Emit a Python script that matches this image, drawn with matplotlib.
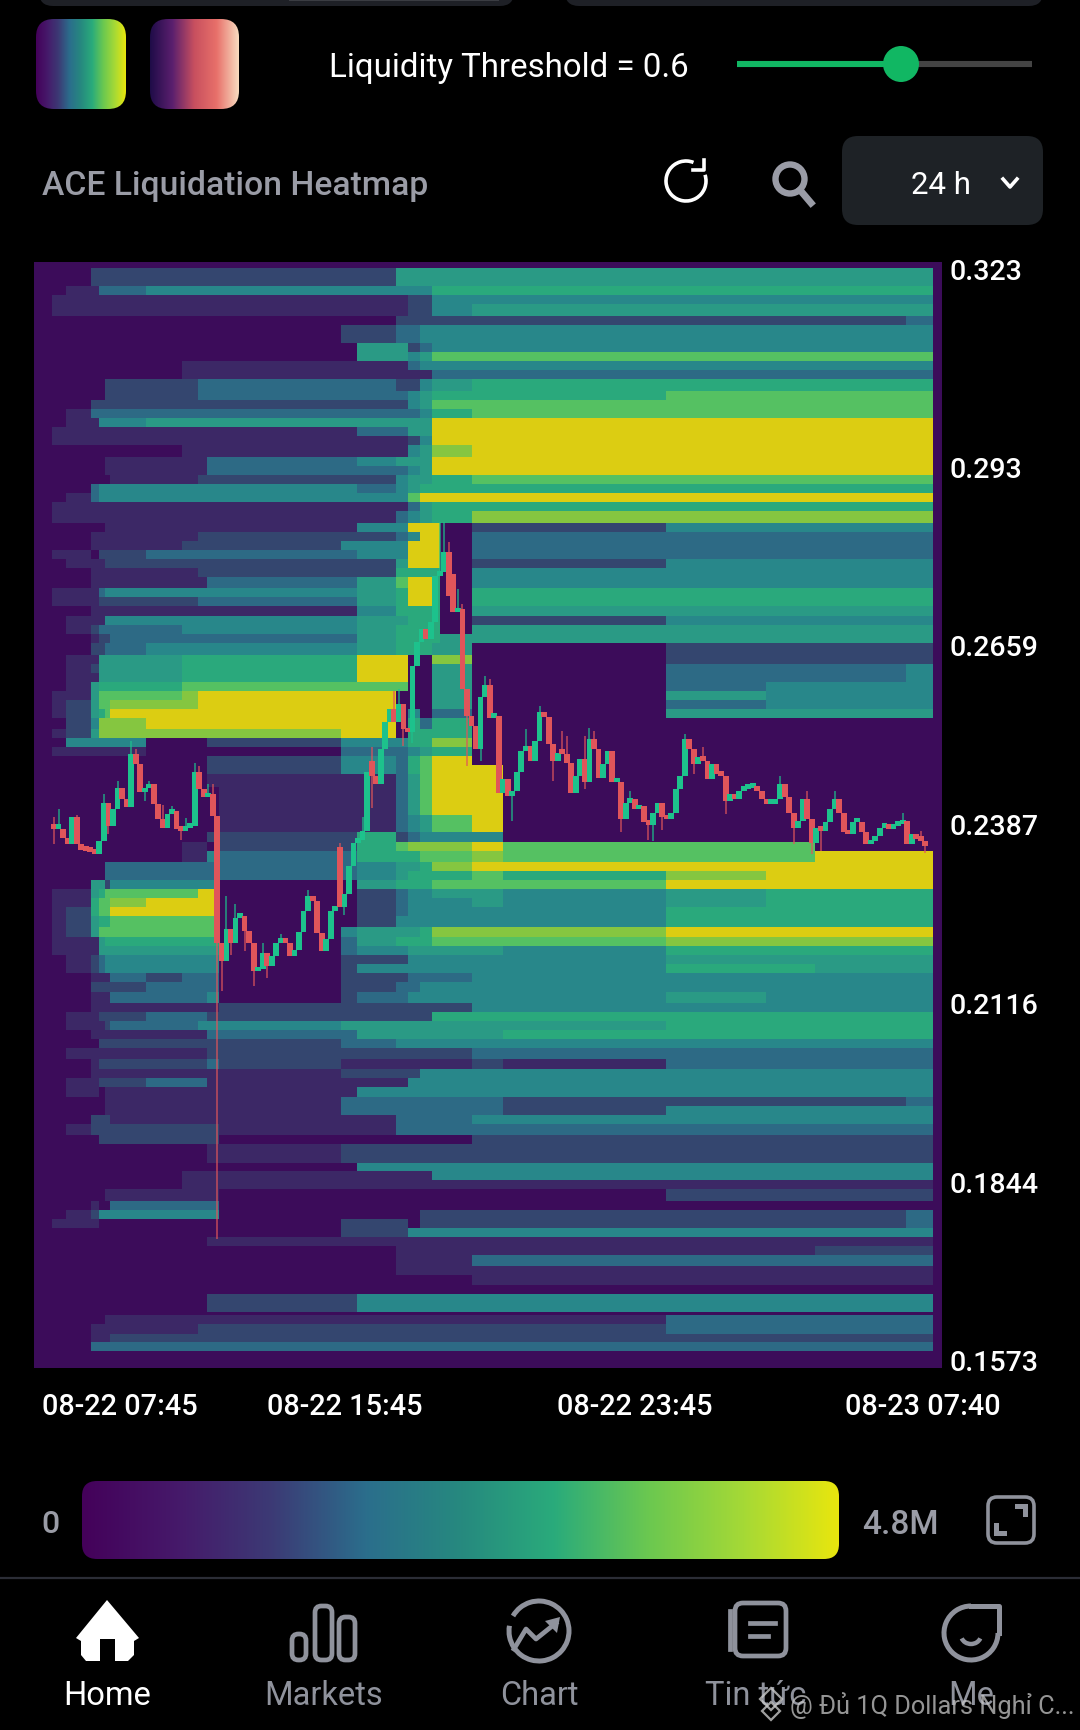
import numpy as np
import matplotlib
matplotlib.use("Agg")
import matplotlib.pyplot as plt
from matplotlib.colors import ListedColormap, LinearSegmentedColormap
from matplotlib.patches import FancyBboxPatch, Circle, Arc, Polygon, Rectangle
from matplotlib.transforms import ScaledTranslation

plt.rcParams['font.family'] = ['Roboto', 'DejaVu Sans']

# hours after 08-22 07:45, edges of the heat columns
heat_hours = [-0.55, -0.055, 0.33, 1.02, 1.24, 1.40, 1.54, 2.53, 3.53, 3.97, 4.21, 4.55,
              7.91, 8.35, 9.42, 9.75, 10.08, 10.41, 11.52, 12.37, 16.86, 19.61, 20.96, 23.47, 24.21]

# price edges of the heat rows, top down
heat_prices = [0.32422, 0.32326, 0.32191, 0.32056, 0.31919, 0.31784, 0.31605, 0.31470, 0.31328, 0.31193,
               0.31057, 0.30917, 0.30780, 0.30645, 0.30461, 0.30325, 0.30189, 0.30054, 0.29917, 0.29782,
               0.29641, 0.29462, 0.29327, 0.29191, 0.29056, 0.28920, 0.28784, 0.28643, 0.28459, 0.28323,
               0.28188, 0.28052, 0.27917, 0.27781, 0.27645, 0.27466, 0.27331, 0.27196, 0.27044, 0.26907,
               0.26772, 0.26637, 0.26452, 0.26316, 0.26181, 0.26045, 0.25905, 0.25768, 0.25633, 0.25498,
               0.25323, 0.25188, 0.25053, 0.24918, 0.24781, 0.24646, 0.24445, 0.24266, 0.24023, 0.23772,
               0.23613, 0.23476, 0.23309, 0.23173, 0.23036, 0.22899, 0.22762, 0.22633, 0.22489, 0.22322,
               0.22170, 0.22033, 0.21897, 0.21760, 0.21623, 0.21487, 0.21335, 0.21168, 0.21031, 0.20894,
               0.20758, 0.20621, 0.20484, 0.20317, 0.20165, 0.20029, 0.19892, 0.19740, 0.19603, 0.19467,
               0.19330, 0.19163, 0.19026, 0.18889, 0.18745, 0.18616, 0.18479, 0.18343, 0.18160, 0.18024,
               0.17887, 0.17750, 0.17614, 0.17477, 0.17340, 0.17173, 0.17037, 0.16885, 0.16748, 0.16475,
               0.16429, 0.16292, 0.16146, 0.16019, 0.15882, 0.15624]

# liquidity level per cell (0-9), one string per row, one digit per column
heat_rows = [
    "000000 000000 000000 000000", "000222 222222 225555 555555", "000222 222222 225555 555555",
    "001133 344444 444446 666666", "011111 111111 111224 444444", "011111 111111 111224 555555",
    "000000 000000 002222 222223", "000000 000000 223344 444444", "000000 000000 223344 444444",
    "000000 000000 055234 444444", "000000 000000 055457 777777", "000000 001111 111344 444444",
    "000000 001111 111113 333333", "000002 222333 332245 666666", "000002 222333 333456 667777",
    "000222 222222 222457 777777", "001333 333333 333346 777777", "001144 455555 555559 999999",
    "011111 111111 133559 999999", "011111 111111 111249 999999", "000000 001111 111458 999999",
    "000001 111133 345559 999999", "000001 111133 333459 999999", "000000 111222 224556 777777",
    "000344 444444 434566 666666", "001344 444444 444799 999999", "011111 111111 111356 666666",
    "011111 111111 113456 888888", "000001 111111 144990 224444", "000111 111222 223490 333333",
    "000111 112222 444990 333333", "011022 233333 344990 333333", "001112 222222 225990 224444",
    "000111 111222 226660 444444", "000111 111133 357990 444444", "011134 444444 456990 666666",
    "011122 222333 356990 666666", "000111 111111 146660 555555", "001114 444444 455660 224444",
    "001233 334444 456660 555555", "000122 333333 356665 555555", "000223 344444 456665 002222",
    "001155 556666 699008 002222", "001255 556666 699005 003334", "001155 556666 699005 003334",
    "001566 667777 777005 003444", "011577 778999 990005 005444", "012577 888999 990005 003444",
    "012567 999999 990403 005555", "002488 899999 990636 000000", "012588 888888 990666 000000",
    "004444 400022 444668 000000", "011111 100000 333456 000000", "000000 000022 443679 000000",
    "000000 000022 443679 900000", "000000 000011 113579 900000", "000000 000001 113579 900000",
    "000000 000001 113579 900000", "000000 000001 113457 900000", "000000 000022 262344 400000",
    "000000 001102 267888 977700", "000000 001143 366677 877799", "000003 333333 345568 999999",
    "000003 333333 345666 768999", "000552 444440 056667 779999", "011567 777990 023445 545666",
    "011677 899990 023444 545666", "012677 999990 023444 446666", "012566 777770 024444 446666",
    "012577 777770 455568 889999", "011156 666660 356667 778888", "011155 555550 344555 546666",
    "001234 444440 222444 445555", "001234 444440 244444 446655", "000111 323330 222333 444444",
    "000222 233330 223344 444444", "000111 333340 233444 445444", "000111 111112 222222 444444",
    "001122 233322 222226 666666", "001112 333444 555555 556666", "000111 111133 355555 566666",
    "000022 222222 334444 444444", "001111 111122 222222 333333", "000122 222232 111111 213333",
    "000111 111111 222244 444444", "001122 233311 111444 444444", "001101 111111 144444 444444",
    "000001 111111 333333 322223", "000001 111111 333333 324444", "000222 111111 113333 444444",
    "001222 222221 113333 333333", "000022 222220 000000 222222", "000000 000011 222222 222222",
    "000000 000011 222222 222222", "000000 000000 044444 444444", "000000 001111 111114 444444",
    "000000 001111 111111 111111", "000001 111110 000000 002222", "000100 333330 000000 000000",
    "001244 444440 000022 222223", "011100 000000 222022 222223", "000000 000000 222444 444444",
    "000000 000011 111111 111111", "000000 000000 001111 111122", "000000 000000 001111 333333",
    "000000 000000 001111 111111", "000000 000000 000000 111111", "000000 000000 000000 000000",
    "000000 000022 244444 444444", "000000 000000 000000 000000", "000001 111111 111111 113333",
    "000111 111222 222222 223333", "000111 222222 222222 222222", "000333 333333 333333 333333",
    "000000 000000 000000 000000",
]

level_colors = ["#3c0c5a", "#3c2866", "#34466f", "#2d6a85", "#28878a",
                "#2a9a85", "#2aa97c", "#55c162", "#85c640", "#dccd12"]

# narrow blocks left of the peak that do not fit the column grid
block_hours = [[10.41, 10.63], [10.41, 10.63]]
block_prices = [[0.28459, 0.27781], [0.27781, 0.26637]]
block_levels = [9, 6]

# closing price of each 7.5 min candle
candle_close = [
    0.2381, 0.2381, 0.2368, 0.2358, 0.2399, 0.2358, 0.2349, 0.2348, 0.2346, 0.2343,
    0.2363, 0.2420, 0.2386, 0.2411, 0.2444, 0.2426, 0.2414, 0.2495, 0.2480, 0.2437,
    0.2443, 0.2449, 0.2419, 0.2396, 0.2383, 0.2404, 0.2409, 0.2381, 0.2378, 0.2383,
    0.2386, 0.2467, 0.2442, 0.2429, 0.2434, 0.2401, 0.2208, 0.2181, 0.2229, 0.2208,
    0.2246, 0.2249, 0.2226, 0.2208, 0.2165, 0.2168, 0.2193, 0.2173, 0.2188, 0.2208,
    0.2216, 0.2208, 0.2188, 0.2198, 0.2224, 0.2257, 0.2279, 0.2272, 0.2223, 0.2196,
    0.2214, 0.2257, 0.2259, 0.2262, 0.2282, 0.2325, 0.2360, 0.2365, 0.2378, 0.2467,
    0.2462, 0.2449, 0.2502, 0.2543, 0.2563, 0.2543, 0.2571, 0.2533, 0.2528, 0.2629,
    0.2665, 0.2685, 0.2670, 0.2695, 0.2766, 0.2771, 0.2801, 0.2735, 0.2710, 0.2715,
    0.2594, 0.2553, 0.2538, 0.2502, 0.2581, 0.2599, 0.2550, 0.2553, 0.2436, 0.2457,
    0.2431, 0.2439, 0.2467, 0.2500, 0.2507, 0.2485, 0.2515, 0.2558, 0.2551, 0.2510,
    0.2485, 0.2497, 0.2495, 0.2482, 0.2436, 0.2462, 0.2487, 0.2452, 0.2518, 0.2502,
    0.2459, 0.2480, 0.2500, 0.2452, 0.2452, 0.2396, 0.2421, 0.2426, 0.2411, 0.2416,
    0.2391, 0.2387, 0.2406, 0.2421, 0.2399, 0.2396, 0.2406, 0.2442, 0.2462, 0.2518,
    0.2502, 0.2480, 0.2490, 0.2485, 0.2457, 0.2480, 0.2464, 0.2462, 0.2424, 0.2434,
    0.2426, 0.2439, 0.2442, 0.2444, 0.2444, 0.2439, 0.2426, 0.2419, 0.2419, 0.2426,
    0.2449, 0.2429, 0.2406, 0.2383, 0.2393, 0.2426, 0.2396, 0.2360, 0.2383, 0.2378,
    0.2391, 0.2411, 0.2426, 0.2406, 0.2376, 0.2373, 0.2391, 0.2391, 0.2376, 0.2358,
    0.2363, 0.2371, 0.2383, 0.2386, 0.2381, 0.2386, 0.2388, 0.2393, 0.2358, 0.2373,
    0.2366, 0.2363, 0.2355,
]
# candles that did not open at the previous close
gap_index = [63, 70, 88]
gap_open = [0.2353, 0.2485, 0.2769]
# visible wicks
high_index = [0, 1, 5, 11, 14, 17, 18, 21, 24, 26, 29, 31, 32, 34, 35, 38, 40, 46, 50, 56, 63, 68, 70,
              75, 76, 85, 86, 87, 89, 90, 91, 95, 96, 104, 107, 112, 113, 117, 118, 119, 127, 139, 143,
              160, 166, 172, 187, 191]
high_price = [0.2399, 0.2411, 0.2403, 0.2434, 0.2454, 0.2515, 0.2502, 0.2454, 0.2417, 0.2416, 0.2398, 0.2482,
              0.2477, 0.2449, 0.2449, 0.2279, 0.2267, 0.2208, 0.2222, 0.2289, 0.2360, 0.2400, 0.2505,
              0.2591, 0.2594, 0.2847, 0.2847, 0.2817, 0.2746, 0.2723, 0.2594, 0.2614, 0.2609, 0.2533,
              0.2568, 0.2530, 0.2523, 0.2523, 0.2535, 0.2530, 0.2439, 0.2525, 0.2505,
              0.2462, 0.2439, 0.2439, 0.2406, 0.2378]
low_index = [0, 12, 20, 28, 36, 37, 39, 42, 44, 47, 64, 70, 77, 79, 91, 94, 101, 110, 117, 125, 131, 132, 134,
             141, 148, 163, 167, 169, 192]
low_price = [0.2358, 0.2373, 0.2424, 0.2365, 0.1759, 0.2135, 0.2190, 0.2195, 0.2142, 0.2155, 0.2250, 0.2413,
             0.2507, 0.2512, 0.2477, 0.2484, 0.2393, 0.2454, 0.2442, 0.2376, 0.2365, 0.2363, 0.2380,
             0.2464, 0.2404, 0.2358, 0.2343, 0.2348, 0.2345]

price_ticks = [0.323, 0.293, 0.2659, 0.2387, 0.2116, 0.1844, 0.1573]
price_labels = ["0.323", "0.293", "0.2659", "0.2387", "0.2116", "0.1844", "0.1573"]
time_ticks = [0.0, 8.0, 16.0, 23.92]
time_labels = ["08-22 07:45", "08-22 15:45", "08-22 23:45", "08-23 07:40"]
nav_labels = ["Home", "Markets", "Chart", "Tin tức", "Me"]

W, H = 1080, 1731
fig = plt.figure(figsize=[W/100, H/100], dpi=100, facecolor='black')

# page furniture, in pixels
ui = fig.add_axes([0, 0, 1, 1])
ui.set_xlim(0, W)
ui.set_ylim(H, 0)
ui.axis('off')

grad = LinearSegmentedColormap.from_list('scale', ["#44015a", "#46196a", "#3c3a75", "#2b6e8c", "#26897f",
                                                   "#2aab7b", "#6bc850", "#a5d936", "#e8e60e"])
warm = LinearSegmentedColormap.from_list('warm', ["#1f0c48", "#5a1f6e", "#c8505f", "#e8706a", "#f8dcc0"])
ramp = np.linspace(0, 1, 256)[None, :]


def rounded_ramp(x0, y0, x1, y1, r, cmap):
    box = FancyBboxPatch((x0+r, y0+r), x1-x0-2*r, y1-y0-2*r, boxstyle="round,pad=%g,rounding_size=%g" % (r, r),
                         fc='none', ec='none', transform=ui.transData)
    ui.add_patch(box)
    im = ui.imshow(ramp, extent=(x0, x1, y1, y0), cmap=cmap, aspect='auto', zorder=2)
    im.set_clip_path(box)


def rbox(x0, y0, x1, y1, r, **kw):
    ui.add_patch(FancyBboxPatch((x0+r, y0+r), x1-x0-2*r, y1-y0-2*r,
                                boxstyle="round,pad=%g,rounding_size=%g" % (r, r), **kw))


rbox(39, -30, 514, 7, 14, fc="#1e2026", ec='none')
rbox(565, -30, 1043, 7, 14, fc="#1e2026", ec='none')
ui.add_patch(Rectangle((289, 0), 210, 2, fc="#3a3c42", ec='none'))

rounded_ramp(36, 20, 126, 110, 18, grad)
rounded_ramp(150, 20, 239, 110, 18, warm)

ui.text(329, 68, "Liquidity Threshold = 0.6", color='white', fontsize=23.8, va='center', ha='left')
ui.plot([737, 901], [65, 65], color="#11b763", lw=4.4, solid_capstyle='butt')
ui.plot([901, 1032], [65, 65], color="#444444", lw=4.4, solid_capstyle='butt')
ui.add_patch(Circle((901, 65), 18, fc="#11b763", ec='none', zorder=3))

ui.text(42, 186, "ACE Liquidation Heatmap", color="#9a9ca6", fontsize=24.2, va='center', ha='left', fontweight='medium')

# refresh, search, range box
ui.add_patch(Arc((686, 182), 40, 40, theta1=-18, theta2=292, color='white', lw=2.6))
ui.plot([693, 704, 704], [171, 171, 161], color='white', lw=2.6)
ui.add_patch(Circle((790, 180), 14.5, fc='none', ec="#9a9ca6", lw=4.6))
ui.plot([800, 811], [191, 204], color="#9a9ca6", lw=5)
rbox(842, 137, 1043, 226, 16, fc="#1e2226", ec='none')
ui.text(941, 185, "24 h", color='white', fontsize=22.5, va='center', ha='center')
ui.plot([1003, 1010, 1017], [180, 188, 180], color='white', lw=2.6)

# colour scale
rounded_ramp(82, 1482, 839, 1560, 15, grad)
ui.text(50, 1525, "0", color="#9a9ca6", fontsize=23, va='center', ha='center', fontweight='medium')
ui.text(862, 1525, "4.8M", color="#9a9ca6", fontsize=24, va='center', ha='left', fontweight='medium')
rbox(988, 1498, 1034, 1544, 9, fc='none', ec="#8f929c", lw=2.6)
ui.add_patch(Polygon([[1028, 1505], [1028, 1518], [1023, 1518], [1023, 1510], [1015, 1510], [1015, 1505]], fc="#8f929c", ec='none'))
ui.add_patch(Polygon([[994, 1537], [994, 1524], [999, 1524], [999, 1532], [1007, 1532], [1007, 1537]], fc="#8f929c", ec='none'))

ui.plot([0, W], [1579, 1579], color="#2b2d36", lw=1.6)

# nav bar icons
ui.add_patch(Polygon([[107, 1601], [139, 1639], [134, 1642], [134, 1656], [128, 1662], [115, 1662], [115, 1640],
                      [100, 1640], [100, 1662], [86, 1662], [81, 1656], [81, 1642], [76, 1639]], fc='white', ec='none'))
icon = "#8f929c"
for x0, x1, y0 in [(292, 306, 1635), (315, 332, 1607), (339, 355, 1618)]:
    rbox(x0, y0, x1, 1661, 6.5, fc='none', ec=icon, lw=3.4)
ui.add_patch(Arc((539, 1632), 60, 60, theta1=-150, theta2=190, color=icon, lw=3.6))
ui.plot([514, 526, 536, 556], [1650, 1630, 1640, 1624], color=icon, lw=3.4)
ui.add_patch(Polygon([[545, 1622], [560, 1618], [557, 1634]], fc=icon, ec='none'))
rbox(735, 1604, 786, 1657, 8, fc='none', ec=icon, lw=3.4)
ui.plot([730, 730], [1612, 1650], color=icon, lw=3.4)
ui.plot([750, 775], [1624, 1624], color=icon, lw=3.4)
ui.plot([750, 768], [1637, 1637], color=icon, lw=3.4)
ui.add_patch(Arc((971, 1634), 54, 54, theta1=0, theta2=270, color=icon, lw=3.6))
ui.plot([971, 999, 999], [1607, 1607, 1634], color=icon, lw=3.6)
ui.add_patch(Arc((971, 1636), 20, 18, theta1=20, theta2=160, color=icon, lw=3.2))

nav_x = [107, 323.5, 539, 756, 971]
for i, (x, lab) in enumerate(zip(nav_x, nav_labels)):
    ui.text(x, 1696, lab, color='white' if i == 0 else icon, fontsize=23.5, va='center', ha='center')

# watermark
ui.add_patch(Polygon([[771, 1689], [782, 1700], [771, 1711], [760, 1700]], fc='none', ec="#c8c8c8", lw=1.6, alpha=0.8, zorder=4))
ui.add_patch(Polygon([[771, 1703], [780, 1712], [771, 1721], [762, 1712]], fc='none', ec="#c8c8c8", lw=1.6, alpha=0.8, zorder=4))
ui.text(790, 1706, "@ Đủ 1Q Dollars Nghỉ C...", color="#c8c8c8", alpha=0.75, fontsize=18.3, va='center', ha='left', zorder=4)

ui.set_xlim(0, W)
ui.set_ylim(H, 0)

# heatmap with candles on top
ax = fig.add_axes([34/W, 1-1369/H, 908/W, 1106/H])
ax.set_facecolor(level_colors[0])
cells = np.array([[int(ch) for ch in row.replace(" ", "")] for row in heat_rows])
cmap = ListedColormap(level_colors)
ax.pcolormesh(heat_hours, heat_prices, cells, cmap=cmap, vmin=-0.5, vmax=9.5, shading='flat')
for bh, bp, bl in zip(block_hours, block_prices, block_levels):
    ax.fill_between(bh, bp[0], bp[1], color=level_colors[bl], lw=0, zorder=2)
ax.set_xlim(-0.55, 24.46)
ax.set_ylim(0.15624, 0.32422)
for s in ax.spines.values():
    s.set_visible(False)

close = np.array(candle_close)
opens = np.r_[0.2386, close[:-1]]
opens[gap_index] = gap_open
high = np.maximum(opens, close)
low = np.minimum(opens, close)
high[high_index] = high_price
low[low_index] = low_price
t = np.arange(len(close))*0.125
col = np.where(close >= opens, "#1dc28c", "#e0555a")
ax.vlines(t, low, high, colors=col, lw=1.2, alpha=0.75, zorder=3)
ax.bar(t, np.maximum(np.abs(close-opens), 0.0007), bottom=np.minimum(opens, close), width=0.16, color=col,
       lw=0, zorder=4)

ax.yaxis.tick_right()
ax.set_yticks(price_ticks, price_labels, color='white', fontsize=20.5, fontweight='medium')
ax.tick_params(axis='y', length=0, pad=5.5)
ax.set_xticks(time_ticks, time_labels, color='white', fontsize=20.8, fontweight='medium')
ax.tick_params(axis='x', length=0, pad=17)
for lab in ax.get_yticklabels():
    lab.set_transform(lab.get_transform() + ScaledTranslation(0, 0.015, fig.dpi_scale_trans))
first = ax.get_xticklabels()[0]
first.set_ha('left')
first.set_transform(first.get_transform() + ScaledTranslation(-0.12, 0, fig.dpi_scale_trans))

fig.savefig("out.png", dpi=100, facecolor='black')
